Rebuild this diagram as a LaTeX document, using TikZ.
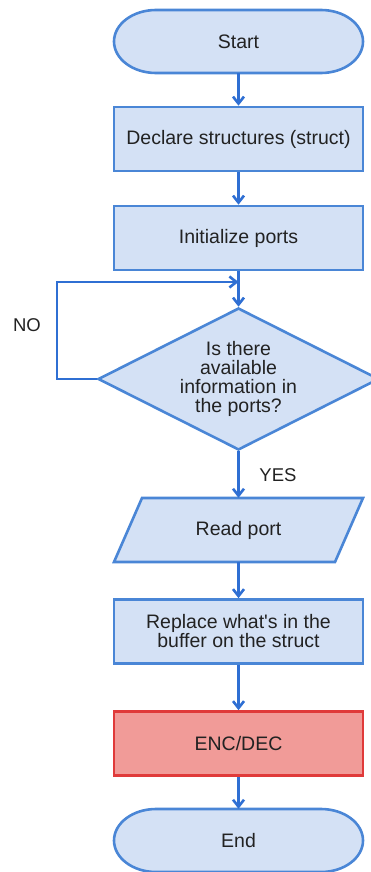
\documentclass[tikz,border=0pt]{standalone}
\usepackage{fontspec}
\setmainfont{Liberation Sans}
\usetikzlibrary{arrows.meta,shapes.geometric}
\definecolor{boxfill}{HTML}{D4E1F5}
\definecolor{boxline}{HTML}{4A86D6}
\definecolor{flowline}{HTML}{2F6FD3}
\definecolor{hotfill}{HTML}{F19B98}
\definecolor{hotline}{HTML}{E03A3A}
\definecolor{ink}{HTML}{222222}
\begin{document}
\begin{tikzpicture}[x=1pt,y=1pt,
  every node/.style={font=\fontsize{19.5}{19}\selectfont, text=ink},
  procbox/.style={rectangle, draw=boxline, fill=boxfill, line width=2.6pt,
    minimum width=249pt, minimum height=64pt, inner sep=0pt, align=center},
  hotbox/.style={procbox, draw=hotline, fill=hotfill},
  termshape/.style={draw=boxline, fill=boxfill, line width=2.6pt},
  decision/.style={diamond, draw=boxline, fill=boxfill, line width=2.6pt,
    minimum width=281pt, minimum height=142pt, inner sep=0pt, aspect=2, align=center},
  flow/.style={draw=flowline, line width=2.6pt,
    -{Straight Barb[length=7pt,width=11pt,line width=2.6pt]}},
  tag/.style={font=\fontsize{18.5}{18}\selectfont}
]
\useasboundingbox (0,0) rectangle (370,-872);

% terminator outlines (elliptical caps)
\newcommand{\termpath}[3]{%
  \path[termshape] (#1-124.5+42,#2+#3) -- (#1+124.5-42,#2+#3)
    arc[start angle=90,end angle=-90,x radius=42pt,y radius=#3 pt]
    -- (#1-124.5+42,#2-#3)
    arc[start angle=270,end angle=90,x radius=42pt,y radius=#3 pt] -- cycle;}

\termpath{238.5}{-41.5}{31.5}
\node[minimum width=249pt, minimum height=63pt, inner sep=0pt] (start) at (238.5,-41.5) {Start};

\node[procbox] (decl) at (238.5,-139) {Declare structures (struct)};
\node[procbox] (init) at (238.5,-238) {Initialize ports};
\node[decision] (ask) at (238.5,-379) {Is there\\available\\information in\\the ports?};

% data (parallelogram) shape
\path[termshape] (142,-498) -- (363,-498) -- (335,-562) -- (114,-562) -- cycle;
\node[minimum width=221pt, minimum height=64pt, inner sep=0pt] (read) at (238.5,-530) {Read port};

\node[procbox] (repl) at (238.5,-631.5) {Replace what\textquotesingle s in the\\buffer on the struct};
\node[hotbox] (codec) at (238.5,-743.5) {ENC/DEC};

\termpath{238.5}{-840.5}{31.5}
\node[minimum width=249pt, minimum height=63pt, inner sep=0pt] (finish) at (238.5,-840.5) {End};

% connectors
\draw[flow] (start.south) -- (decl.north);
\draw[flow] (decl.south) -- (init.north);
\draw[flow] (init.south) -- (ask.north);
\coordinate (loopA) at (57,-379);
\coordinate (loopB) at (57,-282);
\coordinate (loopC) at (238.5,-282);
\draw[flow] (ask.west) -- (loopA) -- (loopB) -- (loopC);
\draw[flow] (ask.south) -- (read.north);
\draw[flow] (read.south) -- (repl.north);
\draw[flow] (repl.south) -- (codec.north);
\draw[flow] (codec.south) -- (finish.north);

\node[tag] (no) at (27,-325) {NO};
\node[tag] (yes) at (278,-475) {YES};
\end{tikzpicture}
\end{document}
